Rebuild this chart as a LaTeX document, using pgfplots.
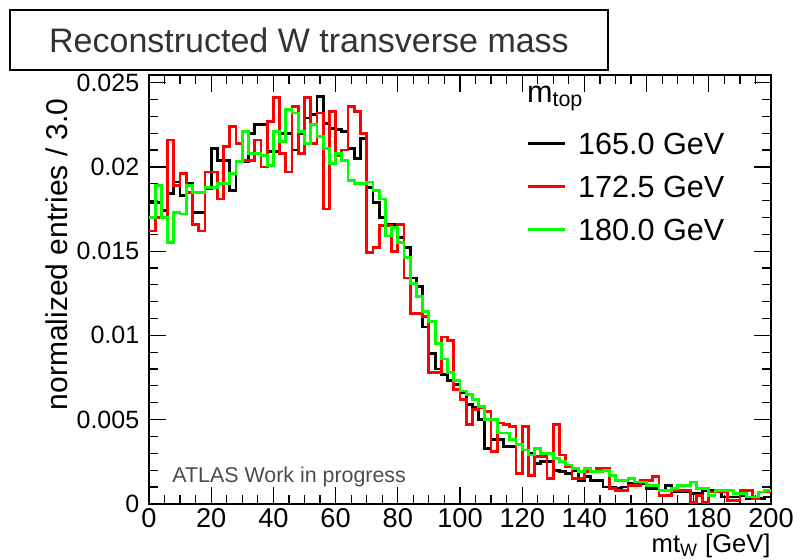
\documentclass[border=0pt]{standalone}
\usepackage{fontspec}
\setmainfont{Liberation Sans}
\usepackage{pgfplots}
\usepackage{pgfplotstable}
\pgfplotsset{compat=1.18}

% Reconstructed W transverse mass, 2 GeV bins, normalised to unit area.
% Columns: lower bin edge, m_top = 165.0, 172.5, 180.0 GeV.
% The last row repeats the last bin to close the step at 200 GeV.
\pgfplotstableread{
x    k165    r172    g180
0    0.0179  0.0162  0.0170
2    0.0179  0.0170  0.0189
4    0.0174  0.0170  0.0170
6    0.0184  0.0216  0.0155
8    0.0191  0.0189  0.0173
10   0.0183  0.0196  0.0172
12   0.0190  0.0185  0.0189
14   0.0173  0.0166  0.0185
16   0.0173  0.0162  0.0185
18   0.0187  0.0197  0.0188
20   0.0211  0.0197  0.0188
22   0.0204  0.0181  0.0190
24   0.0204  0.0212  0.0190
26   0.0186  0.0224  0.0196
28   0.0203  0.0214  0.0203
30   0.0203  0.0204  0.0221
32   0.0220  0.0204  0.0208
34   0.0225  0.0216  0.0208
36   0.0225  0.0200  0.0207
38   0.0209  0.0227  0.0201
40   0.0209  0.0241  0.0221
42   0.0220  0.0208  0.0215
44   0.0220  0.0197  0.0234
46   0.0210  0.0236  0.0232
48   0.0220  0.0208  0.0221
50   0.0229  0.0241  0.0214
52   0.0231  0.0214  0.0225
54   0.0242  0.0232  0.0218
56   0.0226  0.0175  0.0211
58   0.0223  0.0233  0.0202
60   0.0222  0.0207  0.0208
62   0.0221  0.0210  0.0204
64   0.0211  0.0236  0.0192
66   0.0205  0.0233  0.0190
68   0.0217  0.0220  0.0190
70   0.0188  0.0149  0.0191
72   0.0179  0.0152  0.0186
74   0.0170  0.0165  0.0181
76   0.0166  0.0165  0.0159
78   0.0166  0.0150  0.0164
80   0.0158  0.0166  0.0155
82   0.0152  0.0134  0.0146
84   0.0134  0.0113  0.0131
86   0.0129  0.0113  0.0123
88   0.0105  0.0111  0.0114
90   0.0089  0.0078  0.0108
92   0.0080  0.0078  0.0095
94   0.0077  0.0099  0.0086
96   0.0073  0.0097  0.0078
98   0.0071  0.0068  0.0073
100  0.0066  0.0062  0.0067
102  0.0059  0.0047  0.0065
104  0.0057  0.0056  0.0062
106  0.0050  0.0057  0.0058
108  0.0033  0.0055  0.0050
110  0.0038  0.0031  0.0050
112  0.0038  0.0048  0.0042
114  0.0034  0.0047  0.0042
116  0.0034  0.0046  0.0038
118  0.0035  0.0018  0.0035
120  0.0032  0.0046  0.0032
122  0.0030  0.0017  0.0029
124  0.0024  0.0028  0.0033
126  0.0025  0.0028  0.0030
128  0.0025  0.0015  0.0030
130  0.0020  0.0047  0.0027
132  0.0019  0.0029  0.0025
134  0.0018  0.0022  0.0023
136  0.0020  0.0015  0.0021
138  0.0014  0.0015  0.0019
140  0.0016  0.0019  0.0021
142  0.0014  0.0019  0.0019
144  0.0014  0.0021  0.0019
146  0.0010  0.0021  0.0020
148  0.0010  0.0009  0.0017
150  0.0009  0.0008  0.0014
152  0.0010  0.0008  0.0014
154  0.0012  0.0011  0.0015
156  0.0012  0.0011  0.0013
158  0.0012  0.0014  0.0013
160  0.0009  0.0014  0.0011
162  0.0009  0.0016  0.0011
164  0.0008  0.0005  0.0008
166  0.0011  0.0005  0.0008
168  0.0007  0.0008  0.0009
170  0.0007  0.0008  0.0011
172  0.0007  0.0008  0.0011
174  0.0006  0.0001  0.0013
176  0.0006  0.0005  0.0009
178  0.0008  0.0001  0.0009
180  0.0008  0.0007  0.0005
182  0.0008  0.0007  0.0008
184  0.0004  0.0007  0.0008
186  0.0004  0.0002  0.0008
188  0.0004  0.0002  0.0006
190  0.0005  0.0008  0.0006
192  0.0003  0.0008  0.0004
194  0.0003  0.0003  0.0004
196  0.0003  0.0007  0.0007
198  0.0004  0.0007  0.0008
200  0.0004  0.0007  0.0008
}\mtw

\begin{document}
\begin{tikzpicture}
\begin{axis}[
  name=ax,
  scale only axis,
  width=311pt, height=214.4pt,
  xmin=0, xmax=200, ymin=0, ymax=0.025457,
  axis line style={line width=0.8pt},
  tick align=inside,
  tick pos=both,
  xticklabel pos=lower, yticklabel pos=left,
  xtick={0,20,...,200},
  xticklabels={0,20,40,60,80,100,120,140,160,180,200},
  minor x tick num=3,
  ytick={0,0.005,0.01,0.015,0.02,0.025},
  yticklabels={0,0.005,0.01,0.015,0.02,0.025},
  minor y tick num=4,
  scaled y ticks=false,
  major tick length=8.5pt, minor tick length=4.5pt,
  tick style={black, line width=0.6pt},
  xticklabel style={font=\fontsize{13.6}{16}\selectfont, inner sep=0pt, yshift=-2.2pt},
  yticklabel style={font=\fontsize{12.5}{15}\selectfont, inner sep=0pt, xshift=-4.7pt},
  legend style={draw=none, fill=none, inner sep=0pt,
    at={(axis description cs:0.6072,0.7396)}, anchor=west,
    font=\fontsize{15.3}{18}\selectfont, row sep=10.6pt,
    nodes={inner sep=0pt, text height=11pt, text depth=0pt}},
  legend cell align=left,
  legend image code/.code={\draw[#1] (0pt,0pt) -- (18.3pt,0pt); \path (24.1pt,0pt);},
]
\addplot[const plot, black, line width=1.4pt] table[x=x, y=k165] {\mtw};
\addplot[const plot, red, line width=1.4pt] table[x=x, y=r172] {\mtw};
\addplot[const plot, green, line width=1.4pt] table[x=x, y=g180] {\mtw};
\legend{165.0 GeV, 172.5 GeV, 180.0 GeV}

\node[anchor=base west, font=\fontsize{15.3}{18}\selectfont, inner sep=0pt]
  at (axis description cs:0.6072,0.937) {m\textsubscript{top}};
\node[anchor=west, font=\fontsize{10.7}{13}\selectfont, text=black!70, inner sep=0pt]
  at (axis description cs:0.037,0.063) {ATLAS Work in progress};
\end{axis}

% axis titles
\node[anchor=base east, font=\fontsize{12.8}{15}\selectfont, inner sep=0pt]
  at ([yshift=-24.4pt]ax.south east) {mt\textsubscript{W} [GeV]};
\node[rotate=90, anchor=base east, font=\fontsize{15}{18}\selectfont, inner sep=0pt]
  at ([shift={(-40.5pt,-11.5pt)}]ax.north west) {normalized entries / 3.0};

% title box
\node[draw=black, line width=0.9pt, fill=white, minimum width=299pt, minimum height=30pt,
  inner sep=0pt, font=\fontsize{17}{20}\selectfont, text=black!80]
  at ([shift={(80pt,17.5pt)}]ax.north west) {Reconstructed W transverse mass};

\pgfresetboundingbox
\path ([shift={(-74.5pt,-27.6pt)}]ax.south west) rectangle ++(396.5pt,279.5pt);
\end{tikzpicture}
\end{document}
